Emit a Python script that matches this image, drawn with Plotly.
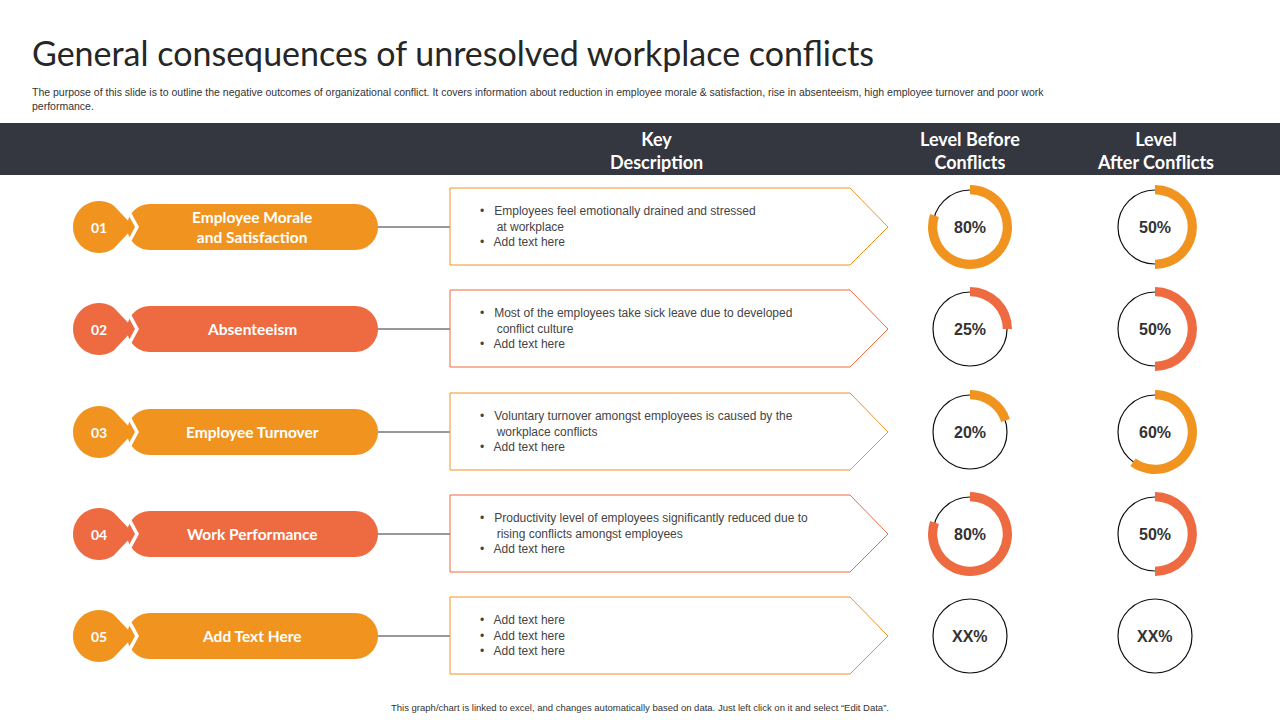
import math
import plotly.graph_objects as go

W, H = 1280, 720
numbers = ["01", "02", "03", "04", "05"]
categories = ["Employee Morale<br>and Satisfaction", "Absenteeism", "Employee Turnover", "Work Performance", "Add Text Here"]
descriptions = [
    ["Employees feel emotionally drained and stressed<br>at workplace", "Add text here"],
    ["Most of the employees take sick leave due to developed<br>conflict culture", "Add text here"],
    ["Voluntary turnover amongst employees is caused by the<br>workplace conflicts", "Add text here"],
    ["Productivity level of employees significantly reduced due to<br>rising conflicts amongst employees", "Add text here"],
    ["Add text here", "Add text here", "Add text here"],
]
before = [80, 25, 20, 80, None]
after = [50, 50, 60, 50, None]
headers = ["Key<br>Description", "Level Before<br>Conflicts", "Level<br>After Conflicts"]

ORANGE, RED = "#F0941F", "#EE6A40"
colors = [ORANGE, RED, ORANGE, RED, ORANGE]
row_y = [227, 329, 432, 534, 636]
FONT = "Lato"

fig = go.Figure()
shapes, ann = [], []

def arc_pts(cx, cy, r, a0, a1, n=24):
    # angles in degrees, screen coords (y down)
    pts = []
    for k in range(n + 1):
        a = math.radians(a0 + (a1 - a0) * k / n)
        pts.append(f"{cx + r*math.cos(a):.2f} {cy + r*math.sin(a):.2f}")
    return pts

def T(x, y, text, size, color="#333", bold=False, xanchor="center", align="center", family=FONT):
    ann.append(dict(x=x, y=y, xref="x", yref="y", text=f"<b>{text}</b>" if bold else text,
                    showarrow=False, xanchor=xanchor, yanchor="middle", align=align,
                    font=dict(size=size, color=color, family=family)))

T(30, 52, "General consequences of unresolved workplace conflicts", 34, "#262626", xanchor="left")
T(30, 99, "The purpose of this slide is to outline the negative outcomes of organizational conflict. It covers information about reduction in employee morale & satisfaction, rise in absenteeism, high employee turnover and poor work<br>performance.", 10.5, "#333", xanchor="left", align="left", family="Liberation Sans")
T(640, 707, "This graph/chart is linked to excel, and changes automatically based on data. Just left click on it and select \u201cEdit Data\u201d.", 9.5, "#333", family="Liberation Sans")

shapes.append(dict(type="rect", x0=0, x1=W, y0=123, y1=175, fillcolor="#343640", line_width=0, layer="below"))
for x, h in zip([656, 970, 1155], headers):
    T(x, 150, h, 18, "white", bold=True)

for i, y in enumerate(row_y):
    c = colors[i]
    r = 26
    # teardrop: circle arc from -60deg around the left to +60deg, then point at right
    pts = arc_pts(99, y, r, -55, -305, 36)
    shapes.append(dict(type="path", fillcolor=c, line_width=0,
        path="M " + " L ".join(pts) + f" L {134} {y} Z"))
    # pill
    pts = [f"150 {y-23}", f"355 {y-23}"] + arc_pts(355, y, 23, -90, 90)[1:] + [f"150 {y+23}"] + arc_pts(150, y, 23, 90, 270)[1:]
    shapes.append(dict(type="path", fillcolor=c, line_width=0, path="M " + " L ".join(pts) + " Z"))
    # white chevron gap
    shapes.append(dict(type="path", fillcolor="white", line_width=0,
        path=f"M 122 {y-24} L 126 {y-24} L 139 {y} L 126 {y+24} L 122 {y+24} L 135 {y} Z"))
    T(99, y, numbers[i], 14, "white", bold=True)
    T(252, y, categories[i], 15.5, "white", bold=True)
    shapes.append(dict(type="line", x0=378, x1=450, y0=y, y1=y, line=dict(color="#333", width=1)))
    shapes.append(dict(type="path", line=dict(color=c, width=1),
        path=f"M 450 {y-39} L 850 {y-39} L 888 {y} L 850 {y+38} L 450 {y+38} Z"))
    txt = "<br>".join("\u2022   " + l.replace("<br>", "<br>     ") for l in descriptions[i])
    T(478, y - 1, txt, 12, "#444", xanchor="left", align="left", family="Liberation Sans")
    for cx, val in [(970, before[i]), (1155, after[i])]:
        shapes.append(dict(type="circle", x0=cx-37, x1=cx+37, y0=y-37, y1=y+37, layer="below",
                           line=dict(color="#111", width=1.2)))
        if val is not None:
            R = 42
            fig.add_trace(go.Pie(values=[val, 100-val], marker=dict(colors=[c, "rgba(0,0,0,0)"], line=dict(width=0)),
                hole=0.78, sort=False, direction="clockwise", rotation=0, textinfo="none", hoverinfo="skip",
                showlegend=False,
                domain=dict(x=[(cx-R)/W, (cx+R)/W], y=[1-(y+R)/H, 1-(y-R)/H])))
            label = f"{val}%"
        else:
            label = "XX%"
        T(cx, y, label, 16, "#333", bold=True, family="Liberation Sans")

fig.update_layout(width=W, height=H, margin=dict(l=0, r=0, t=0, b=0), plot_bgcolor="rgba(0,0,0,0)", paper_bgcolor="white",
    xaxis=dict(range=[0, W], visible=False, fixedrange=True),
    yaxis=dict(range=[H, 0], visible=False, fixedrange=True),
    shapes=shapes, annotations=ann)
fig.write_html("out.html", post_script="document.body.style.margin='0px';",
               config={"displayModeBar": False})
